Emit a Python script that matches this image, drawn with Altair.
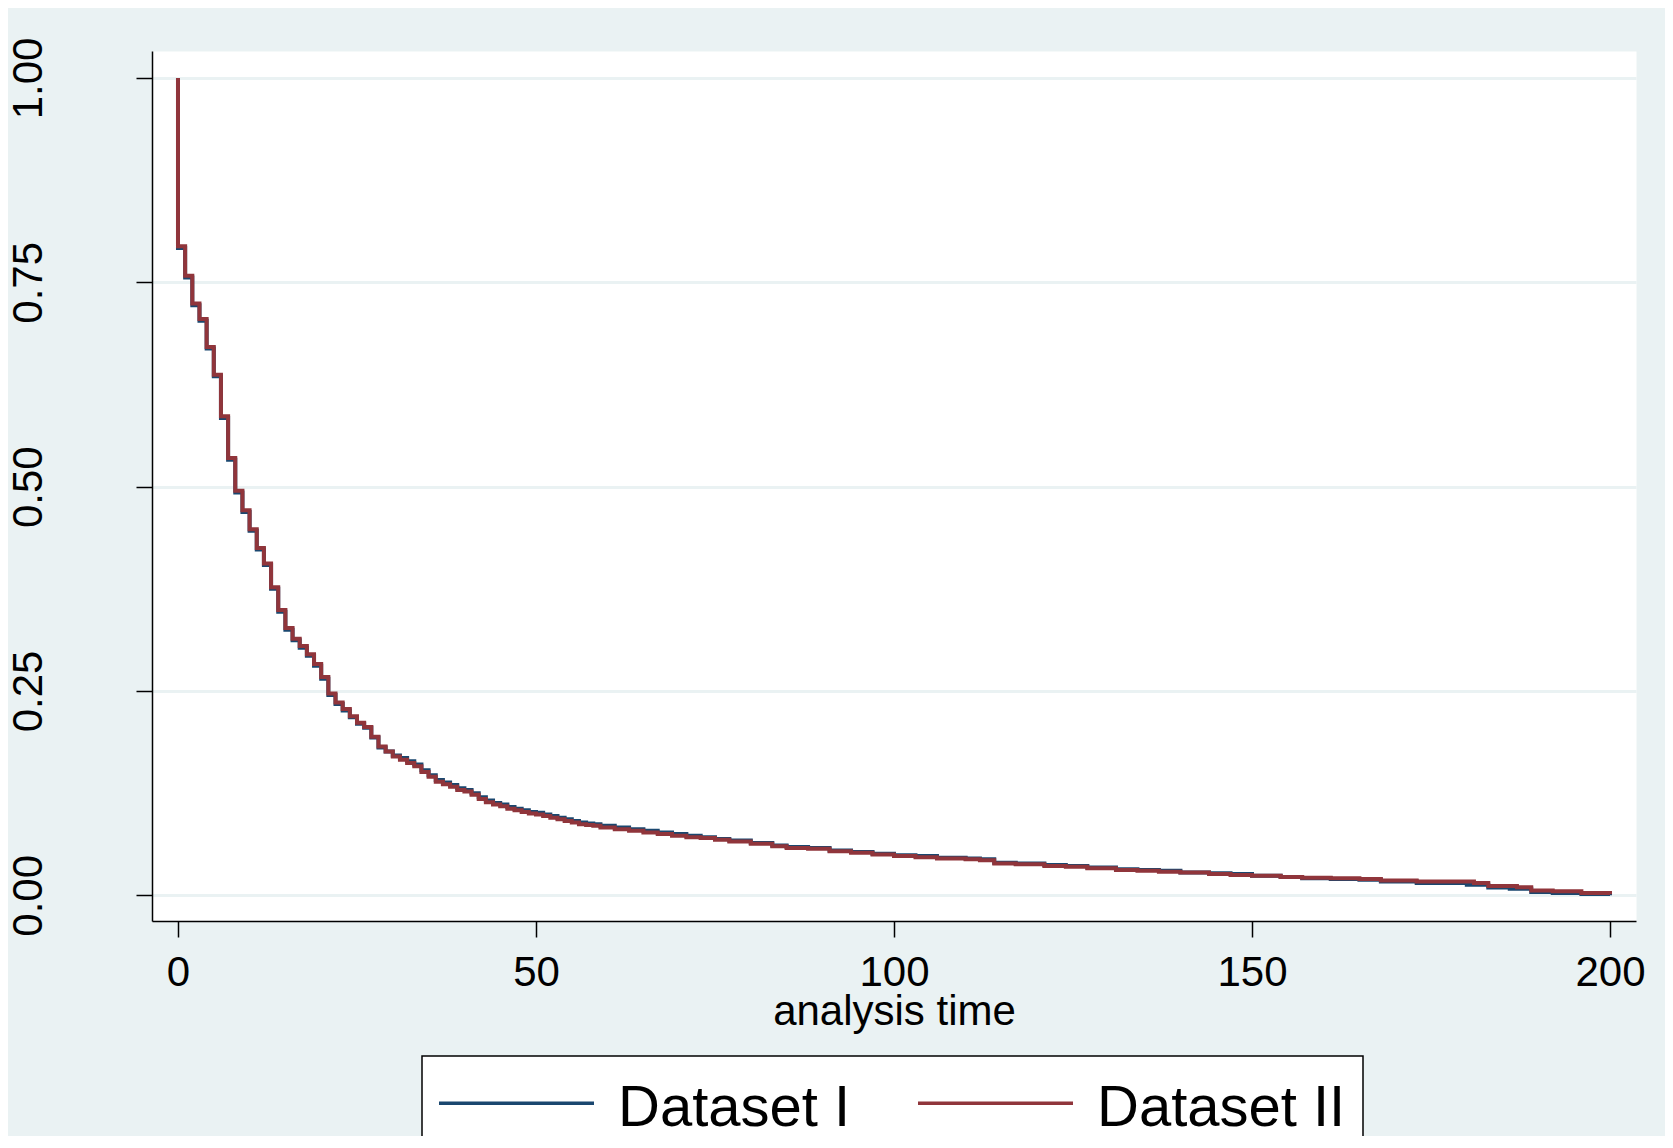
import altair as alt
import pandas as pd

# ---- data (Kaplan-Meier survival estimates) ----
series_names = ["Dataset I", "Dataset II"]
series_colors = ["#1A476F", "#90353B"]

time_II = [0, 0, 1, 2, 3, 4, 5, 6, 7, 8, 9, 10, 11, 12, 13, 14, 15, 16, 17, 18, 19,
           20, 21, 22, 23, 24, 25, 26, 27, 28, 29, 30, 31, 32, 33, 34, 35, 36, 37, 38,
           39, 40, 41, 42, 43, 44, 45, 46, 47, 48, 49, 50, 51, 52, 53, 54, 55, 56, 57,
           58, 59, 61, 63, 65, 67, 69, 71, 73, 75, 77, 80, 83, 85, 88, 91, 94, 97, 100,
           103, 106, 110, 112, 114, 117, 121, 124, 127, 131, 134, 137, 140, 144, 147,
           150, 154, 157, 161, 165, 168, 173, 181, 183, 187, 189, 192, 196, 200]
surv_II = [1.000, 0.794, 0.758, 0.724, 0.705, 0.671, 0.637, 0.586, 0.535, 0.495, 0.471,
           0.448, 0.425, 0.406, 0.377, 0.349, 0.327, 0.314, 0.305, 0.295, 0.283, 0.267,
           0.247, 0.236, 0.228, 0.219, 0.211, 0.206, 0.194, 0.182, 0.176, 0.170, 0.166,
           0.162, 0.158, 0.151, 0.145, 0.139, 0.136, 0.133, 0.129, 0.127, 0.123, 0.118,
           0.114, 0.111, 0.109, 0.106, 0.104, 0.102, 0.100, 0.099, 0.097, 0.095, 0.093,
           0.091, 0.089, 0.087, 0.086, 0.085, 0.083, 0.081, 0.079, 0.077, 0.075, 0.073,
           0.071, 0.070, 0.068, 0.066, 0.063, 0.060, 0.058, 0.057, 0.054, 0.052, 0.050,
           0.048, 0.0465, 0.045, 0.044, 0.043, 0.039, 0.038, 0.036, 0.035, 0.033, 0.031,
           0.030, 0.029, 0.028, 0.026, 0.025, 0.024, 0.0225, 0.0215, 0.021, 0.020, 0.018,
           0.017, 0.015, 0.0115, 0.010, 0.006, 0.005, 0.003, 0.0012]

time_I = [0, 0, 1, 2, 3, 4, 5, 6, 7, 8, 9, 10, 11, 12, 13, 14, 15, 16, 17, 18, 19,
          20, 21, 22, 23, 24, 25, 26, 27, 28, 29, 30, 31, 32, 33, 34, 35, 36, 37, 38,
          39, 40, 41, 42, 43, 44, 45, 46, 47, 48, 49, 50, 51, 52, 53, 54, 55, 56, 57,
          58, 59, 61, 63, 65, 67, 69, 71, 73, 75, 77, 80, 83, 85, 88, 91, 94, 97, 100,
          103, 106, 110, 112, 114, 117, 121, 124, 127, 131, 134, 137, 140, 144, 147,
          150, 154, 157, 161, 165, 168, 173, 180, 183, 186, 189, 192, 196, 200]
surv_I = [1.000, 0.792, 0.756, 0.722, 0.703, 0.669, 0.635, 0.584, 0.533, 0.493, 0.469,
          0.446, 0.423, 0.404, 0.375, 0.347, 0.325, 0.312, 0.303, 0.293, 0.281, 0.265,
          0.245, 0.234, 0.226, 0.218, 0.210, 0.205, 0.193, 0.181, 0.176, 0.171, 0.168,
          0.164, 0.160, 0.153, 0.147, 0.141, 0.138, 0.135, 0.131, 0.129, 0.125, 0.120,
          0.116, 0.113, 0.111, 0.108, 0.106, 0.104, 0.102, 0.101, 0.099, 0.097, 0.095,
          0.093, 0.091, 0.089, 0.088, 0.087, 0.085, 0.083, 0.081, 0.079, 0.077, 0.075,
          0.073, 0.071, 0.069, 0.067, 0.064, 0.061, 0.059, 0.058, 0.055, 0.053, 0.051,
          0.049, 0.048, 0.046, 0.045, 0.044, 0.040, 0.039, 0.037, 0.036, 0.034, 0.032,
          0.031, 0.030, 0.028, 0.027, 0.026, 0.024, 0.0225, 0.021, 0.020, 0.019, 0.017,
          0.015, 0.013, 0.0095, 0.008, 0.004, 0.003, 0.0015, 0.0000]

x_ticks = [0, 50, 100, 150, 200]
y_ticks = [0.0, 0.25, 0.5, 0.75, 1.0]

rows = []
for name, ts, ss in [(series_names[0], time_I, surv_I), (series_names[1], time_II, surv_II)]:
    for i, (t, s) in enumerate(zip(ts, ss)):
        rows.append({"t": t, "s": s, "group": name, "idx": i})
df = pd.DataFrame(rows)

FONT = "Liberation Sans"

chart = alt.Chart(df).mark_line(
    interpolate="step-after", strokeWidth=4, strokeJoin="miter"
).encode(
    x=alt.X(
        "t:Q",
        scale=alt.Scale(domain=[-3.63, 203.63], nice=False, zero=False),
        axis=alt.Axis(
            values=x_ticks, format="d", title="analysis time", grid=False,
            tickSize=16, tickWidth=1.5, tickColor="black",
            domainColor="black", domainWidth=1.5,
            labelFontSize=42, labelFont=FONT, labelColor="black",
            labelBaseline="alphabetic", labelAlign="center", labelPadding=48,
            labelFlush=False,
            titleFontSize=42, titleFont=FONT, titleColor="black",
            titleFontWeight="normal", titleBaseline="alphabetic", titleY=103,
        ),
    ),
    y=alt.Y(
        "s:Q",
        scale=alt.Scale(domain=[-0.0314, 1.033], nice=False, zero=False),
        axis=alt.Axis(
            values=y_ticks, format=".2f", title=None, grid=True,
            gridColor="#EAF2F3", gridWidth=3,
            tickSize=16, tickWidth=1.5, tickColor="black",
            domainColor="black", domainWidth=1.5,
            labelFontSize=42, labelFont=FONT, labelColor="black",
            labelAngle=270, labelAlign="center", labelBaseline="alphabetic",
            labelPadding=94.5, labelFlush=False,
        ),
    ),
    color=alt.Color(
        "group:N",
        scale=alt.Scale(domain=series_names, range=series_colors),
        legend=alt.Legend(
            title=None, orient="none", legendX=270, legendY=1005,
            direction="horizontal",
            symbolType="M-2.2963,-0.163H2.2963", symbolSize=4556.25,
            symbolStrokeWidth=3.5, symbolOffset=42,
            labelFontSize=58, labelFont=FONT, labelColor="black",
            labelOffset=66, labelLimit=1000,
            columnPadding=59, padding=17,
            strokeColor="black", fillColor="white",
        ),
    ),
    order="idx:Q",
).properties(
    width=1484,
    height=870,
    background="#EAF2F3",
    padding={"left": 144, "top": 43, "right": 29, "bottom": 215},
    autosize=alt.AutoSizeParams(type="none"),
).configure_view(
    fill="white", stroke="transparent"
).configure_legend(
    strokeWidth=1.5
)

chart.save("out.html", embed_options={"renderer": "svg", "actions": False})
